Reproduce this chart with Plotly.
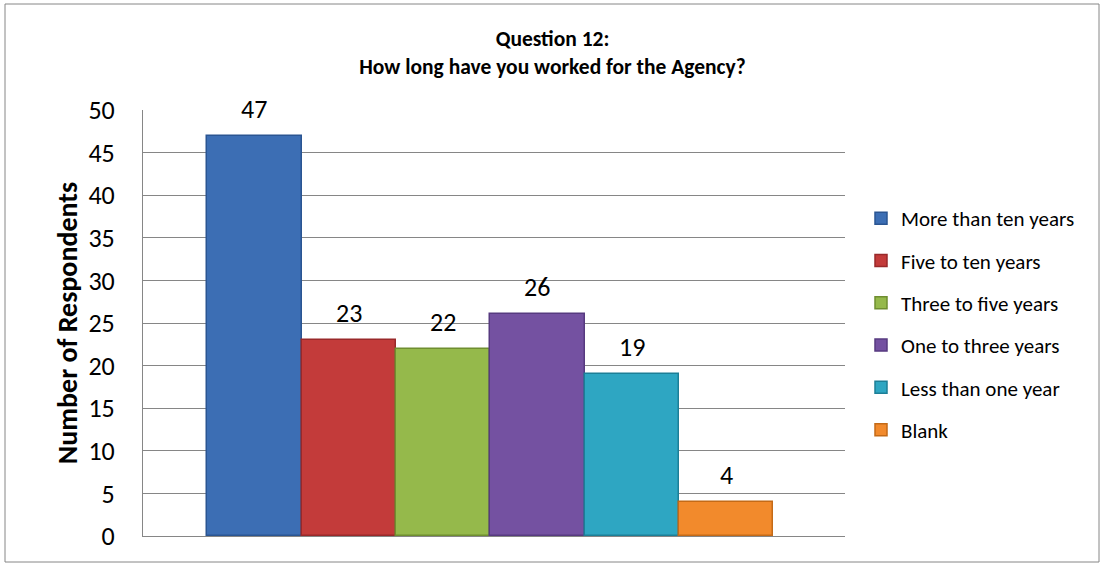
import plotly.graph_objects as go

series_names = ["More than ten years", "Five to ten years", "Three to five years",
                "One to three years", "Less than one year", "Blank"]
values = [47, 23, 22, 26, 19, 4]
colors = ["#3c6eb4", "#c33b3a", "#95b94b", "#7451a1", "#2ea6c2", "#f28a2c"]
edges = ["#2a5592", "#99292a", "#6f8e30", "#573a80", "#1c7f97", "#c46a17"]
y_ticks = list(range(0, 51, 5))

FONT = "Calibri, Carlito, Lato, sans-serif"

fig = go.Figure()
for name, v, c, e in zip(series_names, values, colors, edges):
    fig.add_trace(go.Bar(
        x=[name], y=[v], name=name, legendgroup=name,
        marker=dict(color=c, line=dict(color=e, width=1.5)),
        hoverinfo="skip",
    ))
    fig.add_annotation(x=name, y=v, text=str(v), showarrow=False,
                       yanchor="middle", yshift=27,
                       font=dict(family=FONT, size=26, color="#000"))

W, H = 1105, 565
L, R, T, B = 143, 260, 110, 29
pw, ph = W - L - R, H - T - B

fig.update_layout(
    width=W, height=H,
    margin=dict(l=L, r=R, t=T, b=B),
    paper_bgcolor="white", plot_bgcolor="white",
    barmode="relative", bargap=0,
    font=dict(family=FONT, color="#000"),
    title=dict(text="<b>Question 12:<br>How long have you worked for the Agency?</b>",
               x=0.5, xanchor="center", xref="container",
               y=1 - 46 / H, yanchor="middle", yref="container",
               font=dict(size=21.5, family=FONT)),
    showlegend=True,
    legend=dict(x=(861 - L) / pw, xanchor="left", y=(H - B - 198) / ph, yanchor="top",
                traceorder="grouped", tracegroupgap=12,
                font=dict(size=21, family=FONT), itemwidth=30),
    xaxis=dict(type="category", range=[-1.18, 6.26], showticklabels=False,
               showline=True, linecolor="#868686", linewidth=1,
               ticks="", showgrid=False, fixedrange=True),
    yaxis=dict(range=[0, 50], tickvals=y_ticks, showgrid=True, gridcolor="#868686", gridwidth=1,
               showline=True, linecolor="#868686", linewidth=1,
               tickfont=dict(size=26, family=FONT), ticks="", ticklabelstandoff=22,
               title=dict(text="<b>Number of Respondents</b>", font=dict(size=28, family=FONT),
                          standoff=2),
               zeroline=False),
    shapes=[dict(type="rect", xref="paper", yref="paper",
                 x0=(5 - L) / pw, x1=(1099 - L) / pw,
                 y0=(H - B - 562) / ph, y1=(H - B - 4) / ph,
                 line=dict(color="#868686", width=1), fillcolor="rgba(0,0,0,0)", layer="below")],
)

fig.write_html("out.html", config={"displayModeBar": False},
               post_script="document.body.style.margin='0';document.body.style.overflow='hidden';")
